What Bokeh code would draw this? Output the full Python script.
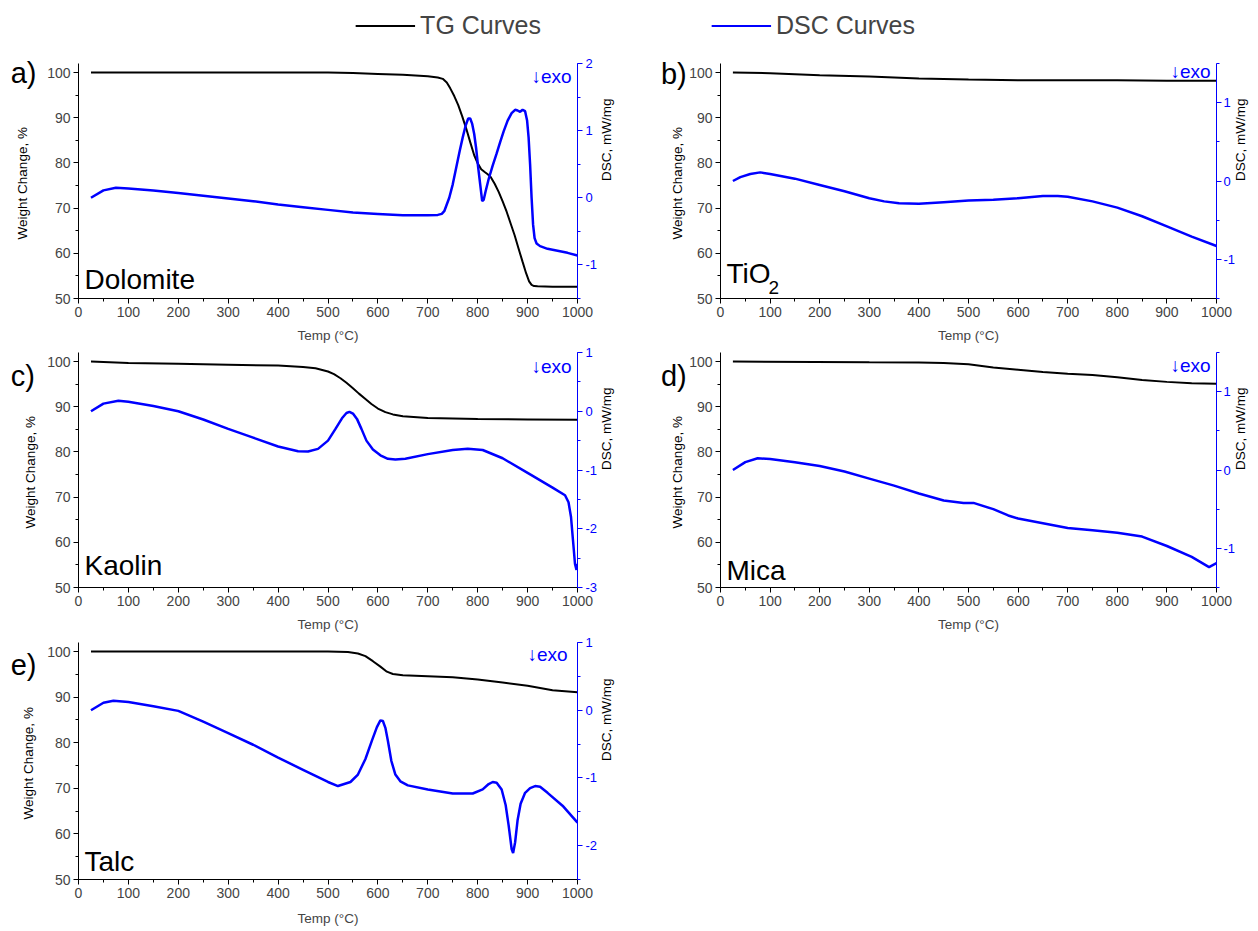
import math
from bokeh.plotting import figure
from bokeh.models import Range1d, LinearAxis, SingleIntervalTicker, Label, Legend, LegendItem, PrintfTickFormatter
from bokeh.layouts import column, row
from bokeh.embed import file_html
from bokeh.resources import INLINE

FONT = "Liberation Sans"
BLUE = "#0000FF"

# ---------------- data ----------------
# a) Dolomite
dol_tg_t = [25, 100, 200, 300, 400, 500, 550, 600, 650, 700, 720, 730, 738, 745, 753, 761, 769, 777, 785, 793, 800, 807, 814, 820, 826, 834, 842, 850, 858, 866, 874, 882, 890, 897, 903, 908, 913, 920, 950, 1000]
dol_tg = [100, 100, 100, 100, 100, 100, 99.9, 99.7, 99.5, 99.2, 98.9, 98.6, 97.8, 96.5, 94.8, 92.8, 90.3, 87.6, 84.6, 81.7, 79.9, 78.6, 78.0, 77.5, 76.9, 75.4, 73.6, 71.5, 69.2, 66.6, 64.0, 61.0, 58.1, 55.6, 53.8, 53.0, 52.75, 52.7, 52.6, 52.6]
dol_dsc_t = [25, 50, 75, 100, 150, 200, 250, 300, 350, 400, 450, 500, 550, 600, 650, 700, 720, 728, 733, 738, 743, 750, 757, 764, 770, 776, 781, 785, 789, 793, 797, 801, 805, 809, 812, 816, 822, 830, 838, 845, 852, 860, 868, 875, 880, 885, 890, 895, 899, 902, 905, 908, 911, 914, 918, 925, 940, 960, 980, 1000]
dol_dsc = [0.0, 0.11, 0.15, 0.14, 0.11, 0.07, 0.03, -0.01, -0.05, -0.10, -0.14, -0.18, -0.22, -0.24, -0.26, -0.26, -0.255, -0.24, -0.20, -0.10, 0.0, 0.20, 0.45, 0.70, 0.90, 1.08, 1.18, 1.18, 1.10, 0.95, 0.73, 0.45, 0.20, -0.05, -0.03, 0.10, 0.28, 0.48, 0.66, 0.83, 0.99, 1.15, 1.26, 1.31, 1.30, 1.28, 1.31, 1.29, 1.15, 0.90, 0.50, 0.0, -0.40, -0.60, -0.68, -0.72, -0.76, -0.79, -0.82, -0.86]

# b) TiO2
tio_tg_t = [25, 100, 200, 300, 400, 500, 600, 700, 800, 900, 1000]
tio_tg = [100, 99.85, 99.4, 99.1, 98.7, 98.45, 98.3, 98.3, 98.3, 98.2, 98.2]
tio_dsc_t = [25, 40, 60, 80, 100, 150, 200, 250, 300, 330, 360, 400, 450, 500, 550, 600, 650, 680, 700, 750, 800, 850, 900, 950, 1000]
tio_dsc = [0.0, 0.05, 0.09, 0.11, 0.09, 0.03, -0.05, -0.13, -0.22, -0.26, -0.285, -0.29, -0.27, -0.25, -0.24, -0.22, -0.19, -0.19, -0.20, -0.26, -0.34, -0.45, -0.58, -0.71, -0.83]

# c) Kaolin
kao_tg_t = [25, 100, 200, 300, 400, 450, 475, 500, 512, 525, 537, 550, 562, 575, 587, 600, 615, 630, 650, 700, 800, 900, 1000]
kao_tg = [100, 99.7, 99.5, 99.3, 99.1, 98.8, 98.5, 97.8, 97.2, 96.3, 95.3, 94.1, 92.9, 91.7, 90.6, 89.6, 88.8, 88.3, 87.9, 87.5, 87.3, 87.2, 87.1]
kao_dsc_t = [25, 50, 80, 100, 150, 200, 250, 300, 350, 400, 440, 460, 480, 500, 515, 528, 537, 543, 550, 558, 567, 577, 590, 605, 620, 635, 655, 700, 750, 780, 810, 850, 900, 950, 975, 982, 987, 991, 995, 998, 1000]
kao_dsc = [0.0, 0.13, 0.18, 0.16, 0.09, 0.0, -0.14, -0.30, -0.45, -0.60, -0.68, -0.685, -0.64, -0.50, -0.30, -0.12, -0.03, -0.01, -0.04, -0.13, -0.30, -0.50, -0.65, -0.75, -0.81, -0.82, -0.81, -0.73, -0.66, -0.64, -0.66, -0.80, -1.05, -1.30, -1.43, -1.55, -1.80, -2.20, -2.60, -2.70, -2.60]

# d) Mica
mic_tg_t = [25, 300, 400, 450, 500, 550, 600, 650, 700, 750, 800, 850, 900, 950, 1000]
mic_tg = [100, 99.85, 99.8, 99.7, 99.4, 98.7, 98.2, 97.7, 97.3, 97.0, 96.5, 95.9, 95.5, 95.2, 95.1]
mic_dsc_t = [25, 50, 75, 100, 150, 200, 250, 300, 350, 400, 450, 490, 510, 550, 580, 600, 650, 700, 750, 800, 850, 900, 950, 985, 1000]
mic_dsc = [0.0, 0.10, 0.15, 0.14, 0.10, 0.05, -0.02, -0.11, -0.20, -0.30, -0.39, -0.42, -0.42, -0.50, -0.58, -0.62, -0.68, -0.74, -0.77, -0.80, -0.85, -0.97, -1.11, -1.24, -1.19]

# e) Talc
tal_tg_t = [25, 200, 400, 500, 540, 560, 575, 590, 605, 618, 630, 650, 700, 750, 800, 850, 900, 950, 1000]
tal_tg = [100, 100, 100, 100, 99.9, 99.6, 99.0, 97.9, 96.7, 95.6, 95.1, 94.8, 94.6, 94.4, 93.9, 93.2, 92.5, 91.5, 91.1]
tal_dsc_t = [25, 50, 70, 100, 150, 200, 250, 300, 350, 400, 450, 500, 520, 545, 560, 575, 588, 598, 605, 610, 615, 620, 627, 635, 645, 660, 700, 750, 790, 810, 822, 830, 838, 848, 856, 862, 868, 871, 875, 880, 886, 895, 905, 915, 925, 940, 970, 1000]
tal_dsc = [0.0, 0.11, 0.14, 0.12, 0.06, -0.01, -0.17, -0.34, -0.51, -0.70, -0.88, -1.06, -1.12, -1.06, -0.95, -0.72, -0.45, -0.25, -0.15, -0.16, -0.26, -0.45, -0.75, -0.95, -1.05, -1.11, -1.17, -1.23, -1.23, -1.17, -1.09, -1.06, -1.07, -1.17, -1.40, -1.70, -2.05, -2.11, -1.95, -1.62, -1.38, -1.22, -1.15, -1.12, -1.13, -1.22, -1.41, -1.66]

panel_letters = ["a)", "b)", "c)", "d)", "e)"]
sample_names = ["Dolomite", "TiO", "Kaolin", "Mica", "Talc"]
sample_subscripts = ["", "2", "", "", ""]
dsc_ranges = [(-1.5, 2), (-1.5, 1.5), (-3, 1), (-1.5, 1.5), (-2.5, 1)]
legend_labels = ["TG Curves", "DSC Curves"]
y_title = "Weight Change, %"
x_title = "Temp (\u00b0C)"
dsc_title = "DSC, mW/mg"


def panel(i, tg_t, tg_v, dsc_t, dsc_v, width, height, bl, br, bt, bb,
          letter_x, letter_y, ytitle_x, name_y, exo_y, exo_x=988, xlab_standoff=8, r_standoff=(3, 6)):
    p = figure(width=width, height=height, x_range=Range1d(0, 1000), y_range=Range1d(50, 102),
               output_backend="svg", toolbar_location=None,
               min_border_left=bl, min_border_right=br, min_border_top=bt, min_border_bottom=bb,
               x_axis_label=x_title)
    lo, hi = dsc_ranges[i]
    p.extra_y_ranges = {"dsc": Range1d(lo, hi)}
    p.grid.visible = False
    p.outline_line_color = None
    p.background_fill_color = "white"
    p.border_fill_color = "white"

    p.xaxis.ticker = SingleIntervalTicker(interval=100, num_minor_ticks=2)
    p.yaxis.ticker = SingleIntervalTicker(interval=10, num_minor_ticks=2)
    rax = LinearAxis(y_range_name="dsc", axis_label=dsc_title,
                     ticker=SingleIntervalTicker(interval=1, num_minor_ticks=2),
                     formatter=PrintfTickFormatter(format="%d"))
    p.add_layout(rax, "right")

    for ax in [p.xaxis[0], p.yaxis[0], rax]:
        ax.major_label_text_font = FONT
        ax.major_label_text_font_size = "14px"
        ax.axis_label_text_font = FONT
        ax.axis_label_text_font_size = "13.5px"
        ax.axis_label_text_font_style = "normal"
        ax.major_tick_out = 5
        ax.major_tick_in = 0
        ax.minor_tick_out = 3
        ax.minor_tick_in = 0
        ax.axis_line_width = 1
        ax.major_label_standoff = 3
    rax.major_label_text_font_size = "13px"
    rax.major_label_standoff = r_standoff[0]
    rax.axis_label_standoff = r_standoff[1]
    p.xaxis[0].axis_label_standoff = xlab_standoff
    rax.axis_label_orientation = math.pi / 2
    for attr in ["axis_line_color", "major_tick_line_color", "minor_tick_line_color", "major_label_text_color"]:
        setattr(rax, attr, BLUE)
    rax.axis_label_text_color = "black"

    p.line(tg_t, tg_v, color="black", line_width=2)
    p.line(dsc_t, dsc_v, color=BLUE, line_width=2.5, y_range_name="dsc")

    # left-margin texts (drawn in the left panel so they are not clipped by the frame)
    p.add_layout(Label(x=ytitle_x, y=75.5, text=y_title, angle=math.pi / 2, text_font=FONT,
                       text_font_size="13.5px", text_align="center", text_baseline="middle",
                       text_color="black"), "left")
    p.add_layout(Label(x=letter_x, y=letter_y, text=panel_letters[i], text_font=FONT, text_font_size="29px",
                       text_align="left", text_baseline="middle", text_color="black"), "left")

    name = Label(x=12, y=name_y, text=sample_names[i], text_font=FONT, text_font_size="28px",
                 text_align="left", text_baseline="bottom", text_color="black")
    p.add_layout(name)
    if sample_subscripts[i]:
        p.add_layout(Label(x=12 + 85, y=name_y - 0.9, text=sample_subscripts[i], text_font=FONT,
                           text_font_size="19px", text_align="left", text_baseline="bottom",
                           text_color="black"))
    p.add_layout(Label(x=exo_x, y=exo_y, text="\u2193exo", text_font=FONT, text_font_size="19px",
                       text_align="right", text_baseline="bottom", text_color=BLUE))
    return p


fa = panel(0, dol_tg_t, dol_tg, dol_dsc_t, dol_dsc, 640, 295, 78, 63, 13, 45, -136, 100, -112, 50.7, 96.8)
fb = panel(1, tio_tg_t, tio_tg, tio_dsc_t, tio_dsc, 618, 295, 80, 40, 13, 45, -120, 99.6, -86, 52.0, 98.0,
           r_standoff=(2, 2))
fc = panel(2, kao_tg_t, kao_tg, kao_dsc_t, kao_dsc, 640, 289, 78, 63, 7, 45, -136, 96.8, -96, 51.5, 96.6)
fd = panel(3, mic_tg_t, mic_tg, mic_dsc_t, mic_dsc, 618, 289, 80, 40, 7, 45, -120, 96.8, -86, 50.3, 96.8,
           r_standoff=(2, 2))
fe = panel(4, tal_tg_t, tal_tg, tal_dsc_t, tal_dsc, 640, 297, 78, 63, 8, 52, -136, 97.0, -100, 50.6, 97.0,
           exo_x=980, xlab_standoff=10)

# legend strip
lg = figure(width=1258, height=50, x_range=Range1d(2000, 3000), y_range=Range1d(0, 1),
            output_backend="svg", toolbar_location=None, min_border=0, min_border_left=12,
            x_axis_location=None, y_axis_location=None)
lg.grid.visible = False
lg.outline_line_color = None
r1 = lg.line(dol_tg_t, dol_tg, color="black", line_width=2)
r2 = lg.line(dol_dsc_t, dol_dsc, color=BLUE, line_width=2)
leg = Legend(items=[LegendItem(label=legend_labels[0], renderers=[r1]),
                    LegendItem(label=legend_labels[1], renderers=[r2])],
             orientation="horizontal", location="center", spacing=170, glyph_width=60,
             label_standoff=5, label_text_font=FONT, label_text_font_size="25px",
             border_line_color=None, background_fill_alpha=0, padding=0, margin=0)
lg.add_layout(leg, "center")

layout = column(lg, row(fa, fb), row(fc, fd), row(fe))
open("out.html", "w").write(file_html(layout, INLINE))
